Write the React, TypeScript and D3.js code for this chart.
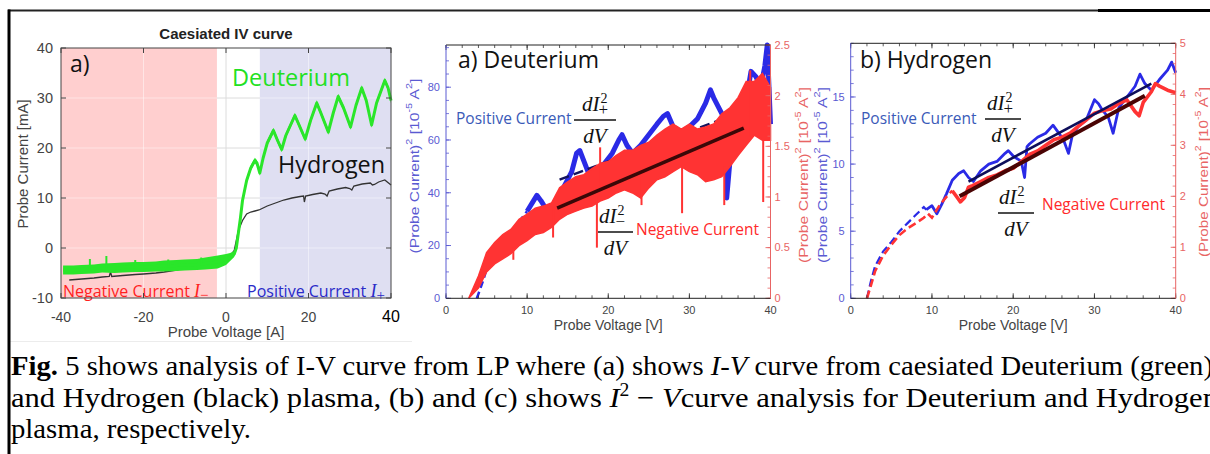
import React from "react";
import * as d3 from "d3";

const SANS = "'Liberation Sans', Arial, Helvetica, sans-serif";
const HUM = "'Open Sans', 'Noto Sans', sans-serif";
const SERIF = "'Liberation Serif', 'Times New Roman', serif";

// ================= Panel (a): caesiated I-V curve =================
const ivTitle = "Caesiated IV curve";
const ivXTicks = [-40, -20, 0, 20, 40];
const ivYTicks = [-10, 0, 10, 20, 30, 40];
const ivGridX = [-20, 0, 20];
const ivGridY = [0, 10, 20, 30];
const negRange = [-40, -2.2];
const posRange = [8.2, 40];

const deutV = [-39.5, -37, -35, -32, -30, -27, -25, -22, -20, -17, -15, -12, -10, -7, -5, -2, 0, 1, 2, 2.5, 3, 3.5, 4, 5, 6, 7, 7.5, 8.2, 9, 10, 11.5, 12.5, 13.5, 14.5, 16.7, 17.5, 19.2, 20.5, 22, 23, 24.8, 26, 27.2, 28.5, 30.2, 31.5, 32.9, 34, 35.3, 36.5, 38.5, 39.3, 40];
const deutI = [-4.4, -4.4, -4.3, -4.2, -4.0, -4.0, -3.9, -3.8, -3.8, -3.7, -3.6, -3.5, -3.4, -3.3, -3.1, -2.8, -2.3, -1.8, -1.2, 0, 3, 6, 9.5, 13.5, 16, 17.5, 17, 15, 18, 21, 23.5, 21.5, 19.7, 22.5, 26.5, 25, 21.8, 25.5, 29, 27, 23.2, 27, 30.3, 28, 24.2, 28.5, 32, 29.5, 24.6, 29, 33.5, 32, 29.5];
const deutHalf = [0.9, 0.9, 0.9, 0.9, 0.9, 1.0, 1.0, 1.0, 1.0, 1.0, 1.1, 1.1, 1.1, 1.1, 1.2, 1.3, 1.1, 0.8, 0.6, 0.55, 0.55, 0.55, 0.55, 0.55, 0.55, 0.55, 0.55, 0.55, 0.55, 0.55, 0.55, 0.55, 0.55, 0.55, 0.55, 0.55, 0.55, 0.55, 0.55, 0.55, 0.55, 0.55, 0.55, 0.55, 0.55, 0.55, 0.55, 0.55, 0.55, 0.55, 0.55, 0.55, 0.55];
const deutSpikeV = [-33, -29, -22, -14, -6];
const deutSpikeI = [-2.2, -1.6, -2.4, -2.3, -1.9];

const hydV = [-38, -35, -32, -30, -28.3, -28, -27.7, -25, -22, -20, -17, -15, -12, -10, -8.3, -8, -7.7, -5, -2, 0, 1, 2, 2.5, 3, 4, 5, 6, 7, 8, 9, 10, 12, 14, 16, 18, 18.8, 19, 19.3, 21, 23, 24, 24.5, 25, 27, 29, 30, 30.5, 31, 33, 35, 35.5, 36, 37, 38.5, 40];
const hydI = [-6.4, -6.2, -6.0, -5.8, -5.7, -4.8, -5.7, -5.5, -5.3, -5.2, -5.0, -4.8, -4.4, -4.0, -3.9, -3.0, -3.9, -3.5, -2.8, -2.0, -1.6, -0.5, 1.5, 3.5, 5.5, 6.8, 7.2, 7.4, 7.6, 8.0, 8.4, 9.0, 9.6, 10.0, 10.3, 10.4, 9.2, 10.4, 10.7, 11.0, 10.8, 10.4, 11.4, 11.8, 12.1, 11.9, 11.6, 12.4, 12.8, 13.0, 12.6, 12.7, 13.2, 13.6, 12.6];

// ================= Panel (b): Deuterium I^2 - V =================
const bXTicks = [0, 10, 20, 30, 40];
const bLeftTicks = [0, 20, 40, 60, 80];
const bRightTicks = [0, 0.5, 1, 1.5, 2, 2.5];
const bBlueV = [3.8, 4.5, 5, 6, 7, 8, 9, 10, 10.8, 11.2, 11.7, 12.5, 13.3, 13.6, 14.5, 15.5, 16.1, 16.5, 17, 17.5, 18.5, 19.5, 20.5, 21.3, 21.7, 22.3, 23, 24, 25, 26, 26.8, 27.3, 28, 29, 30, 31, 32, 32.6, 33, 34, 34.5, 34.6, 35, 36, 37, 37.6, 38.2, 38.8, 39.3, 39.6, 40];
const bBlueY = [0, 6, 11, 17, 21, 25, 29, 33, 37, 39, 37, 33, 30, 35, 42, 48, 55, 56, 52, 48, 49, 51, 55, 60, 62, 58, 55, 58, 62, 66, 69, 70, 65, 63, 65, 68, 74, 79, 76, 70, 66, 38, 52, 62, 75, 86, 84, 80, 88, 96, 66];
const bBlueSolidFrom = 10;
const bRedV = [2.8, 4, 5, 6, 7, 8, 9, 10, 11, 12, 13, 14, 15, 16, 17, 18, 19, 20, 21, 22, 23, 24, 25, 26, 27, 28, 29, 30, 31, 32, 33, 34, 35, 36, 37, 38, 39, 40];
const bRedLo = [0, 0.1, 0.26, 0.34, 0.39, 0.44, 0.52, 0.57, 0.63, 0.65, 0.7, 0.78, 0.83, 0.86, 0.89, 0.91, 0.96, 0.99, 1.04, 1.07, 1.04, 0.99, 1.09, 1.17, 1.2, 1.25, 1.3, 1.25, 1.22, 1.15, 1.17, 1.2, 1.3, 1.41, 1.51, 1.61, 1.56, 1.56];
const bRedHi = [0, 0.22, 0.45, 0.55, 0.63, 0.68, 0.78, 0.83, 0.89, 0.91, 0.94, 1.09, 1.15, 1.2, 1.22, 1.28, 1.33, 1.35, 1.41, 1.46, 1.46, 1.51, 1.54, 1.61, 1.67, 1.72, 1.67, 1.72, 1.67, 1.69, 1.72, 1.82, 1.88, 1.98, 2.14, 2.14, 2.22, 2.08];
const bSpikeV = [8.3, 13.2, 18.6, 19.0, 24.1, 29.1, 34.3, 37.5, 39.1];
const bSpikeLo = [0.38, 0.6, 0.5, 1.0, 0.92, 0.84, 0.92, 1.6, 0.95];
const bSpikeHi = [0.5, 0.9, 1.0, 1.49, 1.2, 1.3, 1.3, 2.25, 1.7];
const bFitBlueV = [14, 35];
const bFitBlueY = [45, 69];
const bFitRedV = [13.7, 36.7];
const bFitRedY = [0.89, 1.68];

// ================= Panel (c): Hydrogen I^2 - V =================
const cXTicks = [0, 10, 20, 30, 40];
const cLeftTicks = [0, 5, 10, 15];
const cRightTicks = [0, 1, 2, 3, 4, 5];
const cBlueV = [2, 2.5, 3, 4, 5, 6, 7, 8, 9, 9.3, 10, 10.6, 11.2, 11.8, 12.5, 13.3, 13.9, 14.5, 15.1, 16, 17, 18, 19, 19.4, 20, 21, 21.4, 21.7, 22, 23, 24, 24.9, 25.5, 26.2, 26.8, 27.3, 28, 29, 30, 30.5, 31, 31.7, 32.3, 33, 34, 35, 35.6, 36.2, 37, 38, 39, 39.5, 40];
const cBlueY = [0, 1.3, 2.4, 3.5, 4.2, 5.0, 5.6, 6.2, 6.8, 6.6, 6.9, 6.3, 7.0, 7.8, 8.8, 9.3, 9.5, 9.0, 8.7, 9.5, 10.0, 10.2, 10.8, 11.0, 10.6, 10.2, 9.0, 11.3, 11.5, 12.0, 12.3, 12.9, 12.4, 11.8, 10.8, 12.2, 12.8, 13.3, 14.8, 14.5, 14.0, 13.5, 12.3, 14.2, 15.0, 15.8, 16.7, 16.0, 15.5, 16.3, 17.0, 17.6, 16.8];
const cBlueSolidFrom = 9.3;
const cRedV = [2, 2.5, 3, 4, 5, 6, 7, 8, 9, 9.5, 10, 10.5, 11, 12, 12.5, 13, 13.5, 14, 14.5, 15, 16, 17, 18, 19, 20, 21, 22, 23, 24, 25, 26, 27, 28, 29, 30, 31, 32, 33, 34, 35, 35.5, 36, 37, 37.5, 38, 39, 40];
const cRedY = [0, 0.26, 0.53, 0.84, 1.05, 1.24, 1.37, 1.47, 1.58, 1.66, 1.58, 1.71, 1.84, 2.03, 2.11, 2.0, 1.89, 1.97, 2.18, 2.21, 2.29, 2.37, 2.42, 2.5, 2.55, 2.68, 2.82, 2.89, 3.0, 3.11, 3.16, 3.24, 3.37, 3.5, 3.63, 3.68, 3.71, 3.82, 3.89, 3.66, 3.58, 3.84, 4.05, 4.21, 4.16, 4.08, 4.03];
const cRedSolidFrom = 12.5;
const cFitBlueV = [14.5, 37.0];
const cFitBlueY = [8.7, 16.0];
const cFitRedV = [13.4, 36.2];
const cFitRedY = [2.0, 3.97];

// ================= Caption =================
const captionLine3 = "plasma, respectively.";

type P = [number, number];
const zip = (xs: number[], ys: number[]): P[] => xs.map((x, i) => [x, ys[i]] as P);
const split = (pts: P[], from: number): [P[], P[]] => {
  const a = pts.filter((p) => p[0] <= from);
  const b = pts.filter((p) => p[0] >= from);
  return [a, b];
};

const BLUE_AX = "#5a5ad2";
const RED_AX = "#e86464";

function Frac({ x, y, w, sign, numDx }: { x: number; y: number; w: number; sign: string; numDx: number }) {
  return (
    <g fill="#111" fontFamily={SERIF}>
      <text x={x + numDx} y={y - 9} fontSize={21}>
        <tspan fontStyle="italic">dI</tspan>
        <tspan fontSize={14} dx={1} dy={-8}>2</tspan>
        <tspan fontSize={17} dx={-9} dy={12}>{sign}</tspan>
      </text>
      <line x1={x} x2={x + w} y1={y} y2={y} stroke="#111" strokeWidth={1.3} />
      <text x={x + w / 2} y={y + 23} fontSize={21} fontStyle="italic" textAnchor="middle">dV</text>
    </g>
  );
}

function SqLabel({ x, y, color, len }: { x: number; y: number; color: string; len: number }) {
  return (
    <text
      transform={`translate(${x},${y}) rotate(-90)`}
      textAnchor="middle"
      dominantBaseline="central"
      fill={color}
      fontFamily={SANS}
      fontSize={13}
      textLength={len}
      lengthAdjust="spacingAndGlyphs"
    >
      (Probe Current)<tspan dy={-5} fontSize={9}>2</tspan>
      <tspan dy={5}> [10</tspan>
      <tspan dy={-5} fontSize={9}>-5</tspan>
      <tspan dy={5}> A</tspan>
      <tspan dy={-5} fontSize={9}>2</tspan>
      <tspan dy={5}>]</tspan>
    </text>
  );
}

function DualFrame({
  x, yL, yR, leftTicks, leftMinor, rightTicks, rightMinor, xTicks, xMinor,
}: {
  x: d3.ScaleLinear<number, number>;
  yL: d3.ScaleLinear<number, number>;
  yR: d3.ScaleLinear<number, number>;
  leftTicks: number[]; leftMinor: number[]; rightTicks: number[]; rightMinor: number[]; xTicks: number[]; xMinor: number[];
}) {
  const [x0, x1] = x.range();
  const [yb, yt] = yL.range();
  return (
    <g>
      {xMinor.map((v) => (
        <g key={"xm" + v}>
          <line x1={x(v)} x2={x(v)} y1={yb} y2={yb - 3} stroke="#333" strokeWidth={0.8} />
          <line x1={x(v)} x2={x(v)} y1={yt} y2={yt + 3} stroke="#333" strokeWidth={0.8} />
        </g>
      ))}
      {xTicks.map((v) => (
        <g key={"xt" + v}>
          <line x1={x(v)} x2={x(v)} y1={yb} y2={yb - 5} stroke="#333" strokeWidth={0.9} />
          <line x1={x(v)} x2={x(v)} y1={yt} y2={yt + 5} stroke="#333" strokeWidth={0.9} />
          <text x={x(v)} y={yb + 16} textAnchor="middle" fontFamily={SANS} fontSize={11} fill="#444">{v}</text>
        </g>
      ))}
      {leftMinor.map((v) => (
        <line key={"lm" + v} x1={x0} x2={x0 + 3} y1={yL(v)} y2={yL(v)} stroke={BLUE_AX} strokeWidth={0.8} />
      ))}
      {leftTicks.map((v) => (
        <g key={"lt" + v}>
          <line x1={x0} x2={x0 + 5} y1={yL(v)} y2={yL(v)} stroke={BLUE_AX} strokeWidth={0.9} />
          <text x={x0 - 6} y={yL(v)} dy="0.35em" textAnchor="end" fontFamily={SANS} fontSize={11} fill={BLUE_AX}>{v}</text>
        </g>
      ))}
      {rightMinor.map((v) => (
        <line key={"rm" + v} x1={x1} x2={x1 - 3} y1={yR(v)} y2={yR(v)} stroke={RED_AX} strokeWidth={0.8} />
      ))}
      {rightTicks.map((v) => (
        <g key={"rt" + v}>
          <line x1={x1} x2={x1 - 5} y1={yR(v)} y2={yR(v)} stroke={RED_AX} strokeWidth={0.9} />
          <text x={x1 + 4} y={yR(v)} dy="0.35em" textAnchor="start" fontFamily={SANS} fontSize={11} fill={RED_AX}>{v}</text>
        </g>
      ))}
      <line x1={x0} x2={x1} y1={yt} y2={yt} stroke="#222" strokeWidth={1} />
      <line x1={x0} x2={x1} y1={yb} y2={yb} stroke="#222" strokeWidth={1} />
      <line x1={x0} x2={x0} y1={yb} y2={yt} stroke={BLUE_AX} strokeWidth={1} />
      <line x1={x1} x2={x1} y1={yb} y2={yt} stroke={RED_AX} strokeWidth={1} />
      <text x={(x0 + x1) / 2} y={yb + 32} textAnchor="middle" fontFamily={SANS} fontSize={14} fill="#444">Probe Voltage [V]</text>
    </g>
  );
}

export default function App() {
  // ---------- panel (a) scales ----------
  const xA = d3.scaleLinear().domain([-40, 40]).range([61, 391]);
  const yA = d3.scaleLinear().domain([-10, 40]).range([298, 48]);
  const lineA = d3.line<P>().x((d) => xA(d[0])).y((d) => yA(d[1]));
  const deutArea = d3
    .area<number>()
    .x((i) => xA(deutV[i]))
    .y0((i) => yA(deutI[i] - deutHalf[i]))
    .y1((i) => yA(deutI[i] + deutHalf[i]));
  const idx = deutV.map((_, i) => i);

  // ---------- panel (b) scales ----------
  const xB = d3.scaleLinear().domain([0, 40]).range([446, 770.5]);
  const yB = d3.scaleLinear().domain([0, 96]).range([298.3, 45]);
  const yBr = d3.scaleLinear().domain([0, 2.5]).range([298.3, 45]);
  const lineBL = d3.line<P>().x((d) => xB(d[0])).y((d) => yB(d[1]));
  const lineBR = d3.line<P>().x((d) => xB(d[0])).y((d) => yBr(d[1]));
  const redAreaB = d3
    .area<number>()
    .x((i) => xB(bRedV[i]))
    .y0((i) => yBr(bRedLo[i]))
    .y1((i) => yBr(bRedHi[i]));
  const [bBlueDash, bBlueSolid] = split(zip(bBlueV, bBlueY), bBlueSolidFrom);

  // ---------- panel (c) scales ----------
  const xC = d3.scaleLinear().domain([0, 40]).range([850.7, 1175.7]);
  const yC = d3.scaleLinear().domain([0, 19]).range([298.3, 43.3]);
  const yCr = d3.scaleLinear().domain([0, 5]).range([298.3, 43.3]);
  const lineCL = d3.line<P>().x((d) => xC(d[0])).y((d) => yC(d[1]));
  const lineCR = d3.line<P>().x((d) => xC(d[0])).y((d) => yCr(d[1]));
  const [cBlueDash, cBlueSolid] = split(zip(cBlueV, cBlueY), cBlueSolidFrom);
  const [cRedDash, cRedSolid] = split(zip(cRedV, cRedY), cRedSolidFrom);

  const ax0 = xA(-40), ax1 = xA(40), ay0 = yA(-10), ay1 = yA(40);
  const GREEN = "#2ae62a";

  return (
    <svg
      width={1210}
      height={454}
      viewBox="0 0 1210 454"
      style={{ position: "absolute", left: 0, top: 0, display: "block", background: "#fff" }}
    >
      <rect x={0} y={0} width={1210} height={454} fill="#fff" />

      {/* ================= Panel (a) ================= */}
      <text x={226} y={38.5} textAnchor="middle" fontFamily={SANS} fontWeight="bold" fontSize={15} fill="#222">{ivTitle}</text>
      {ivGridY.map((v) => (
        <line key={"gy" + v} x1={ax0} x2={ax1} y1={yA(v)} y2={yA(v)} stroke="#dcdcdc" strokeWidth={1} />
      ))}
      {ivGridX.map((v) => (
        <line key={"gx" + v} x1={xA(v)} x2={xA(v)} y1={ay0} y2={ay1} stroke="#dcdcdc" strokeWidth={1} />
      ))}
      <rect x={xA(negRange[0])} y={ay1} width={xA(negRange[1]) - xA(negRange[0])} height={ay0 - ay1} fill="#ffcfcf" />
      <rect x={xA(posRange[0])} y={ay1} width={xA(posRange[1]) - xA(posRange[0])} height={ay0 - ay1} fill="#dfdff2" />
      {ivGridY.map((v) => (
        <g key={"gw" + v}>
          <line x1={xA(negRange[0])} x2={xA(negRange[1])} y1={yA(v)} y2={yA(v)} stroke="#fff" strokeOpacity={0.45} />
          <line x1={xA(posRange[0])} x2={xA(posRange[1])} y1={yA(v)} y2={yA(v)} stroke="#fff" strokeOpacity={0.45} />
        </g>
      ))}
      {ivGridX.filter((v) => v !== 0).map((v) => (
        <line key={"gwx" + v} x1={xA(v)} x2={xA(v)} y1={ay0} y2={ay1} stroke="#fff" strokeOpacity={0.45} />
      ))}

      <path d={lineA(zip(hydV, hydI)) || ""} fill="none" stroke="#333" strokeWidth={1.3} />
      <path d={deutArea(idx) || ""} fill={GREEN} />
      <path d={lineA(zip(deutV, deutI)) || ""} fill="none" stroke={GREEN} strokeWidth={3} strokeLinejoin="round" />
      {deutSpikeV.map((v, i) => {
        const j = d3.bisectLeft(deutV, v);
        return (
          <line key={"ds" + v} x1={xA(v)} x2={xA(v)} y1={yA(deutI[Math.min(j, deutV.length - 1)])} y2={yA(deutSpikeI[i])} stroke={GREEN} strokeWidth={2} />
        );
      })}

      <text x={70} y={72} fontFamily={HUM} fontSize={23} fill="#111">a)</text>
      <text x={232} y={86} fontFamily={HUM} fontSize={23.5} fill="#22e022">Deuterium</text>
      <text x={278} y={173} fontFamily={HUM} fontSize={23.4} fill="#111">Hydrogen</text>
      <text x={63} y={297} fontFamily={HUM} fontSize={16} fill="#ff1f1f">
        Negative Current <tspan fontFamily={SERIF} fontStyle="italic" fontSize={18}>I</tspan>
        <tspan fontFamily={SERIF} fontSize={15} dy={3}>−</tspan>
      </text>
      <text x={247} y={297} fontFamily={HUM} fontSize={16} fill="#2a2ac8">
        Positive Current <tspan fontFamily={SERIF} fontStyle="italic" fontSize={18}>I</tspan>
        <tspan fontFamily={SERIF} fontSize={15} dy={3}>+</tspan>
      </text>

      {/* frame & ticks (a) */}
      <rect x={ax0} y={ay1} width={ax1 - ax0} height={ay0 - ay1} fill="none" stroke="#444" strokeWidth={1} />
      {ivXTicks.map((v) => (
        <g key={"ax" + v}>
          <line x1={xA(v)} x2={xA(v)} y1={ay0} y2={ay0 - 5} stroke="#444" />
          <line x1={xA(v)} x2={xA(v)} y1={ay1} y2={ay1 + 5} stroke="#444" />
          {v !== 40 ? (
            <text x={xA(v)} y={321.5} textAnchor="middle" fontFamily={SANS} fontSize={14} fill="#444">{v}</text>
          ) : (
            <text x={xA(v)} y={322} textAnchor="middle" fontFamily={SANS} fontSize={16} fill="#000">{v}</text>
          )}
        </g>
      ))}
      {ivYTicks.map((v) => (
        <g key={"ay" + v}>
          <line x1={ax0} x2={ax0 + 5} y1={yA(v)} y2={yA(v)} stroke="#444" />
          <line x1={ax1} x2={ax1 - 5} y1={yA(v)} y2={yA(v)} stroke="#444" />
          <text x={53} y={yA(v)} dy="0.35em" textAnchor="end" fontFamily={SANS} fontSize={14.5} fill="#444">{v}</text>
        </g>
      ))}
      <text x={226} y={337} textAnchor="middle" fontFamily={SANS} fontSize={15} fill="#444">Probe Voltage [A]</text>
      <text transform="translate(22,164) rotate(-90)" textAnchor="middle" dominantBaseline="central" fontFamily={SANS} fontSize={15} fill="#444">Probe Current [mA]</text>
      <line x1={8} x2={412} y1={341.5} y2={341.5} stroke="#ececec" strokeWidth={1} />

      {/* ================= Panel (b) ================= */}
      <path d={lineBL(bBlueDash) || ""} fill="none" stroke="#2a2ae6" strokeWidth={2.5} strokeDasharray="7,4" />
      <path d={lineBL(bBlueSolid) || ""} fill="none" stroke="#2a2ae6" strokeWidth={5} strokeLinejoin="round" />
      <path d={lineBL(zip(bFitBlueV, bFitBlueY)) || ""} fill="none" stroke="#14145e" strokeWidth={2.5} strokeDasharray="10,5" />
      <path d={redAreaB(bRedV.map((_, i) => i)) || ""} fill="#ff3333" stroke="#ff3333" strokeWidth={1.5} />
      {bSpikeV.map((v, i) => (
        <line key={"bs" + v} x1={xB(v)} x2={xB(v)} y1={yBr(bSpikeLo[i])} y2={yBr(bSpikeHi[i])} stroke="#ff3333" strokeWidth={2} />
      ))}
      <path d={lineBR(zip(bFitRedV, bFitRedY)) || ""} fill="none" stroke="#3a0808" strokeWidth={3.5} />
      <DualFrame
        x={xB} yL={yB} yR={yBr}
        leftTicks={bLeftTicks} leftMinor={d3.range(0, 96, 5)}
        rightTicks={bRightTicks} rightMinor={d3.range(0, 2.51, 0.1).map((v) => +v.toFixed(2))}
        xTicks={bXTicks} xMinor={d3.range(0, 41, 2)}
      />
      <text x={458} y={68} fontFamily={HUM} fontSize={23} fill="#111">a) Deuterium</text>
      <text x={456} y={124} fontFamily={HUM} fontSize={15.5} fill="#3a5ab8">Positive Current</text>
      <Frac x={574} y={120} w={42} sign="+" numDx={8} />
      <Frac x={598} y={232} w={35} sign="−" numDx={1} />
      <text x={636} y={235} fontFamily={HUM} fontSize={15.5} fill="#ff2a2a">Negative Current</text>
      <SqLabel x={414} y={166} color={BLUE_AX} len={175} />
      <SqLabel x={803} y={175} color={RED_AX} len={176} />
      <SqLabel x={822} y={175} color={BLUE_AX} len={176} />

      {/* ================= Panel (c) ================= */}
      <path d={lineCL(cBlueDash) || ""} fill="none" stroke="#2a2ae6" strokeWidth={2.2} strokeDasharray="8,4" />
      <path d={lineCL(cBlueSolid) || ""} fill="none" stroke="#2a2ae6" strokeWidth={2.8} strokeLinejoin="round" />
      <path d={lineCR(cRedDash) || ""} fill="none" stroke="#ff3333" strokeWidth={2.6} strokeDasharray="8,4" />
      <path d={lineCR(cRedSolid) || ""} fill="none" stroke="#ff3333" strokeWidth={3.6} strokeLinejoin="round" />
      <path d={lineCL(zip(cFitBlueV, cFitBlueY)) || ""} fill="none" stroke="#0e0e5a" strokeWidth={2.6} />
      <path d={lineCR(zip(cFitRedV, cFitRedY)) || ""} fill="none" stroke="#4a0404" strokeWidth={4} />
      <DualFrame
        x={xC} yL={yC} yR={yCr}
        leftTicks={cLeftTicks} leftMinor={d3.range(0, 19.01, 1)}
        rightTicks={cRightTicks} rightMinor={d3.range(0, 5.01, 0.2).map((v) => +v.toFixed(2))}
        xTicks={cXTicks} xMinor={d3.range(0, 41, 2)}
      />
      <text x={860} y={68} fontFamily={HUM} fontSize={23} fill="#111">b) Hydrogen</text>
      <text x={861} y={124} fontFamily={HUM} fontSize={15.5} fill="#3a5ab8">Positive Current</text>
      <Frac x={985} y={119} w={36} sign="+" numDx={2} />
      <Frac x={998} y={213} w={36} sign="−" numDx={1} />
      <text x={1042} y={210} fontFamily={HUM} fontSize={15.5} fill="#ff2a2a">Negative Current</text>
      <SqLabel x={1203} y={172} color={RED_AX} len={170} />

      {/* ================= Outer frame ================= */}
      <line x1={8} x2={1210} y1={10.5} y2={10.5} stroke="#222" strokeWidth={2} />
      <line x1={1098} x2={1210} y1={10.5} y2={10.5} stroke="#000" strokeWidth={3} />
      <line x1={9} x2={9} y1={9.5} y2={454} stroke="#000" strokeWidth={3} />

      {/* ================= Caption ================= */}
      <text x={11} y={375} fontFamily={SERIF} fontSize={28} fill="#000" textLength={1202} lengthAdjust="spacingAndGlyphs">
        <tspan fontWeight="bold">Fig.</tspan> 5 shows analysis of I-V curve from LP where (a) shows <tspan fontStyle="italic">I-V</tspan> curve from caesiated Deuterium (green)
      </text>
      <text x={11} y={407} fontFamily={SERIF} fontSize={28} fill="#000" textLength={1207} lengthAdjust="spacingAndGlyphs">
        and Hydrogen (black) plasma, (b) and (c) shows <tspan fontStyle="italic">I</tspan><tspan dy={-11} fontSize={18}>2</tspan><tspan dy={11}> − </tspan><tspan fontStyle="italic">V</tspan>curve analysis for Deuterium and Hydrogen
      </text>
      <text x={11} y={438} fontFamily={SERIF} fontSize={28} fill="#000" textLength={240} lengthAdjust="spacingAndGlyphs">
        {captionLine3}
      </text>
    </svg>
  );
}
